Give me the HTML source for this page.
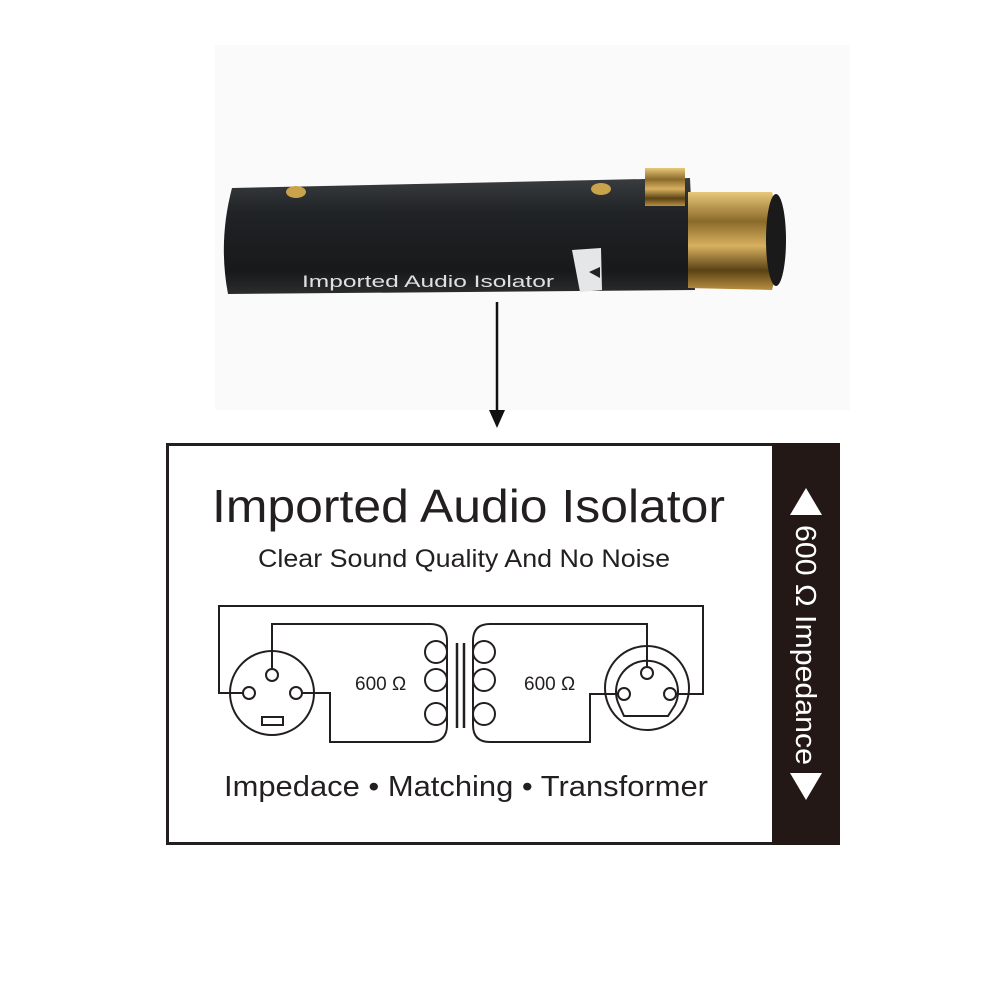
<!DOCTYPE html>
<html><head><style>html,body{margin:0;padding:0;background:#fff}svg{display:block}</style></head>
<body>
<svg width="1000" height="1000" viewBox="0 0 1000 1000" xmlns="http://www.w3.org/2000/svg">
<defs>
<linearGradient id="cyl" x1="0" y1="0" x2="0" y2="1">
<stop offset="0" stop-color="#3a3d3f"/><stop offset="0.3" stop-color="#202325"/><stop offset="0.8" stop-color="#17191a"/><stop offset="1" stop-color="#2a2c2d"/></linearGradient>
<linearGradient id="gold" x1="0" y1="0" x2="0" y2="1">
<stop offset="0" stop-color="#e8c878"/><stop offset="0.3" stop-color="#8a6a2a"/><stop offset="0.55" stop-color="#d8b060"/><stop offset="0.8" stop-color="#5a4214"/><stop offset="1" stop-color="#b89040"/></linearGradient>
</defs>
<rect x="215" y="45" width="635" height="365" fill="#fafafa"/>
<path d="M232 188 L690 178 L695 290 L228 294 Q218 241 232 188 Z" fill="url(#cyl)"/>
<ellipse cx="296" cy="192" rx="10" ry="6" fill="#c9a24c"/>
<ellipse cx="601" cy="189" rx="10" ry="6" fill="#c9a24c"/>
<path d="M572 250 L601 248 L602 290 L580 292 Z" fill="#e4e6e8"/>
<polygon points="589,272 600,267 600,278" fill="#222"/>
<text x="302" y="287" font-family="Liberation Sans, sans-serif" font-size="17" fill="#e0e0e0" textLength="252" lengthAdjust="spacingAndGlyphs">Imported Audio Isolator</text>
<rect x="645" y="168" width="40" height="38" fill="url(#gold)"/>
<path d="M688 192 L772 192 Q786 240 772 290 L688 288 Z" fill="url(#gold)"/>
<ellipse cx="776" cy="240" rx="10" ry="46" fill="#1a1a1a"/>
<line x1="497" y1="302" x2="497" y2="414" stroke="#111" stroke-width="2.5"/>
<polygon points="489,410 505,410 497,428" fill="#111"/>
<rect x="167.5" y="444.5" width="670" height="399" fill="#fff" stroke="#231f20" stroke-width="3"/>
<rect x="772" y="443" width="68" height="402" fill="#231815"/>
<polygon points="806,488 790,515 822,515" fill="#fff"/>
<polygon points="806,800 790,773 822,773" fill="#fff"/>
<text transform="translate(796,645) rotate(90)" text-anchor="middle" font-family="Liberation Sans, sans-serif" font-size="29" fill="#fff" textLength="240" lengthAdjust="spacingAndGlyphs">600 Ω Impedance</text>
<g font-family="Liberation Sans, sans-serif" fill="#231f20">
<text x="212" y="522" font-size="46" textLength="513" lengthAdjust="spacingAndGlyphs">Imported Audio Isolator</text>
<text x="258" y="567" font-size="25" textLength="412" lengthAdjust="spacingAndGlyphs">Clear Sound Quality And No Noise</text>
<text x="224" y="796" font-size="29" textLength="484" lengthAdjust="spacingAndGlyphs">Impedace • Matching • Transformer</text>
<text x="355" y="690" font-size="19">600 Ω</text>
<text x="524" y="690" font-size="19">600 Ω</text>
</g>
<g fill="none" stroke="#231f20" stroke-width="2">
<path d="M243 693 H219 V606 H703 V694 H676"/>
<circle cx="272" cy="693" r="42"/>
<circle cx="249" cy="693" r="6"/><circle cx="272" cy="675" r="6"/><circle cx="296" cy="693" r="6"/>
<rect x="262" y="717" width="21" height="8"/>
<path d="M272 669 V624 H430 Q447 624 447 641 V725 Q447 742 430 742 H330 V693 H302"/>
<circle cx="436" cy="652" r="11"/><circle cx="436" cy="680" r="11"/><circle cx="436" cy="714" r="11"/>
<line x1="457" y1="643" x2="457" y2="728" stroke-width="2.5"/>
<line x1="464" y1="643" x2="464" y2="728" stroke-width="2.5"/>
<circle cx="484" cy="652" r="11"/><circle cx="484" cy="680" r="11"/><circle cx="484" cy="714" r="11"/>
<path d="M647 667 V624 H490 Q473 624 473 641 V725 Q473 742 490 742 H590 V694 H618"/>
<circle cx="647" cy="688" r="42"/>
<path d="M619 705 A31 31 0 1 1 675 705 L668 716 H624 Z"/>
<circle cx="624" cy="694" r="6"/><circle cx="647" cy="673" r="6"/><circle cx="670" cy="694" r="6"/>
</g>
</svg>
</body></html>
